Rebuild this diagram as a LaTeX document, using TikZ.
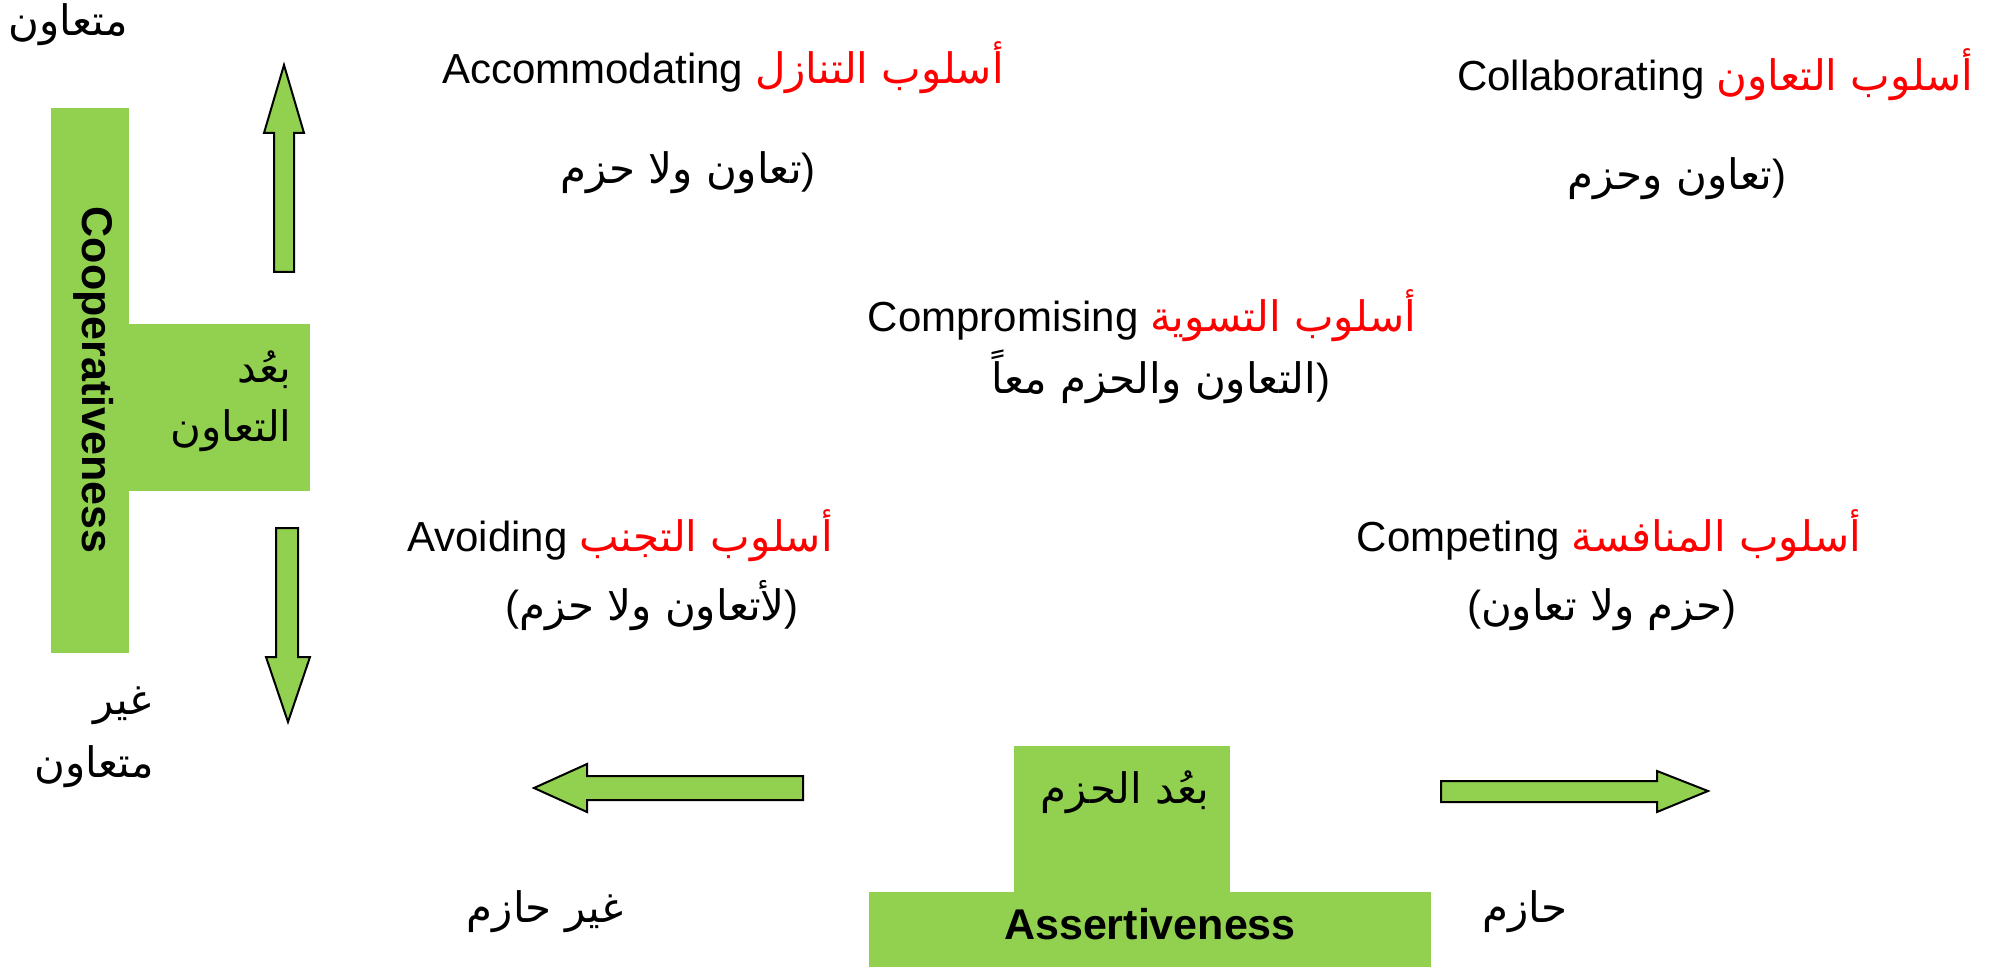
\documentclass[tikz,border=0pt]{standalone}
\usepackage{fontspec}
\setmainfont{Liberation Sans}
\newfontfamily\arabicfont[Script=Arabic]{DejaVu Sans}
\TeXXeTstate=1
\definecolor{boxgreen}{HTML}{92D050}
\definecolor{stylered}{HTML}{FF0000}
\newcommand{\artext}[1]{{\arabicfont\beginR #1\endR}}
\begin{document}
\begin{tikzpicture}[x=0.5pt, y=-0.5pt,
    every node/.style={align=center, inner sep=0pt, font=\fontsize{21}{30}\selectfont},
    dimlabel/.style={font=\fontsize{21.5}{30}\selectfont\bfseries},
    blockarrow/.style={fill=boxgreen, draw=black, line width=1pt, line join=miter}]
    \useasboundingbox (0,0) rectangle (1990,967);

    \fill[boxgreen] (51,108) rectangle (129,653);
    \fill[boxgreen] (129,324) rectangle (310,491);
    \fill[boxgreen] (1014,746) rectangle (1230,892);
    \fill[boxgreen] (869,892) rectangle (1431,967);

    \draw[blockarrow] (284,65) -- (304,133) -- (294,133) -- (294,272) -- (274,272) -- (274,133) -- (264,133) -- cycle;
    \draw[blockarrow] (288,722) -- (310,657) -- (298,657) -- (298,528) -- (276,528) -- (276,657) -- (266,657) -- cycle;
    \draw[blockarrow] (534,788) -- (587,764) -- (587,776) -- (803,776) -- (803,800) -- (587,800) -- (587,812) -- cycle;
    \draw[blockarrow] (1708,791) -- (1657,771) -- (1657,781) -- (1441,781) -- (1441,802) -- (1657,802) -- (1657,812) -- cycle;

    \node[dimlabel, rotate=-90, anchor=base] (coopName) at (82,380) {Cooperativeness};
    \node[dimlabel, anchor=base] (assertName) at (1150,939) {Assertiveness};

    \node[anchor=base east] (coopHigh) at (128,36) {\artext{متعاون}};
    \node[anchor=base east] (coopLowA) at (152,714) {\artext{غير}};
    \node[anchor=base east] (coopLowB) at (154,777) {\artext{متعاون}};
    \node[anchor=base east] (coopDimA) at (292,383) {\artext{بعُد}};
    \node[anchor=base east] (coopDimB) at (292,442) {\artext{التعاون}};

    \node[anchor=base] (assertDim) at (1125,803) {\artext{بعُد الحزم}};
    \node[anchor=base] (assertLow) at (545,922) {\artext{غير حازم}};
    \node[anchor=base] (assertHigh) at (1525,922) {\artext{حازم}};

    \node[anchor=base] (accTitle) at (723,84) {Accommodating \textcolor{stylered}{\artext{أسلوب التنازل}}};
    \node[anchor=base] (accSub) at (688,184) {\artext{تعاون ولا حزم})};
    \node[anchor=base] (colTitle) at (1715,91) {Collaborating \textcolor{stylered}{\artext{أسلوب التعاون}}};
    \node[anchor=base] (colSub) at (1677,190) {\artext{تعاون وحزم})};
    \node[anchor=base] (comTitle) at (1142,332) {Compromising \textcolor{stylered}{\artext{أسلوب التسوية}}};
    \node[anchor=base] (comSub) at (1161,394) {\artext{التعاون والحزم معاً})};
    \node[anchor=base] (avoTitle) at (620,552) {Avoiding \textcolor{stylered}{\artext{أسلوب التجنب}}};
    \node[anchor=base] (avoSub) at (652,620) {(\artext{لأتعاون ولا حزم})};
    \node[anchor=base] (comptTitle) at (1609,552) {Competing \textcolor{stylered}{\artext{أسلوب المنافسة}}};
    \node[anchor=base] (comptSub) at (1602,620) {(\artext{حزم ولا تعاون})};
\end{tikzpicture}
\end{document}
